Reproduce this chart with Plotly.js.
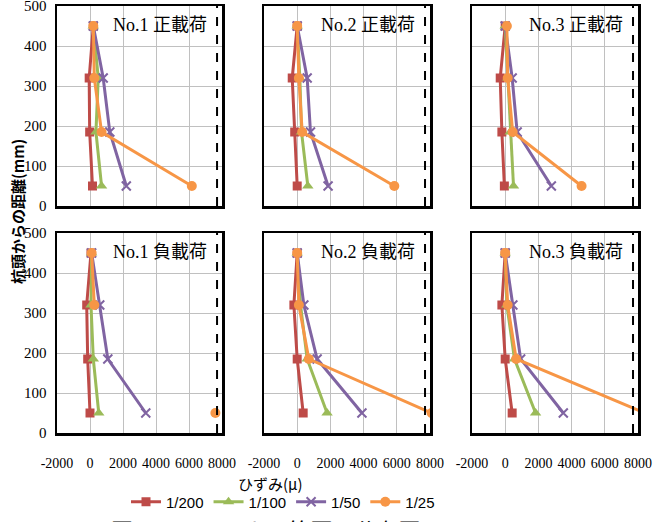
<!DOCTYPE html>
<html>
<head>
<meta charset="utf-8">
<script src="https://cdn.plot.ly/plotly-3.0.1.min.js"></script>
<style>html,body{margin:0;padding:0;background:#fff;}#chart{width:656px;height:522px;}</style>
</head>
<body>
<div id="chart"></div>
<script>
// ---- data ----
const depth = [450, 320, 185, 50];               // 杭頭からの距離 (mm)
const panelTitles = ['No.1 正載荷', 'No.2 正載荷', 'No.3 正載荷',
                     'No.1 負載荷', 'No.2 負載荷', 'No.3 負載荷'];
const seriesNames = ['1/200', '1/100', '1/50', '1/25'];
// strain (μ) per panel, in depth order
const strain200 = [
  [200, -50, -20, 150],
  [0, -300, -150, 0],
  [0, -300, -200, -50],
  [60, -200, -140, 0],
  [0, -200, 0, 360],
  [0, -200, 0, 420]
];
const strain100 = [
  [200, 500, 360, 700],
  [0, 160, 260, 640],
  [0, 150, 300, 500],
  [100, 60, 200, 530],
  [0, 200, 600, 1800],
  [0, 100, 560, 1830]
];
const strain50 = [
  [200, 800, 1200, 2200],
  [0, 600, 800, 1860],
  [0, 420, 720, 2780],
  [100, 590, 1080, 3380],
  [0, 400, 1200, 3900],
  [0, 460, 930, 3500]
];
const strain25 = [
  [200, 260, 700, 6170],
  [0, 100, 300, 5850],
  [100, 150, 450, 4600],
  [100, 260, null, 7600],
  [0, 100, 700, 8100],
  [0, 150, 660, 8400]
];
const yieldStrain = 7700;                          // dashed reference line
const xTicks = [-2000, 0, 2000, 4000, 6000, 8000];
const yTicks = [0, 100, 200, 300, 400, 500];

// ---- styling ----
const SERIF = 'Liberation Serif, DejaVu Serif, Times New Roman, serif';
const SERIF_CJK = 'Liberation Serif, DejaVu Serif, Noto Sans CJK JP, serif';
const CJK = 'Noto Sans CJK JP, sans-serif';
const colors = ['#BE4B48', '#9BBB59', '#8064A2', '#F79646'];
const symbols = ['square', 'triangle-up', 'x-thin-open', 'circle'];
const msizes = [9, 10, 9, 10];
const allSeries = [strain200, strain100, strain50, strain25];

const W = 656, H = 522;
const colPx = [[57, 222], [264, 430], [472, 638]];
const rowPx = [[6, 206], [233, 433]];

const traces = [];
const layout = {
  width: W, height: H,
  margin: {l: 0, r: 0, t: 0, b: 0},
  paper_bgcolor: '#fff', plot_bgcolor: '#fff',
  font: {family: SERIF},
  showlegend: true,
  legend: {
    orientation: 'h', x: 283 / W, xanchor: 'center', y: 1 - 502 / H, yanchor: 'middle',
    font: {family: 'Liberation Sans, Arial, sans-serif', size: 15, color: '#000'},
    itemwidth: 30, tracegroupgap: 0
  },
  annotations: [], shapes: []
};

for (let p = 0; p < 6; p++) {
  const r = Math.floor(p / 3), c = p % 3;
  const ax = p === 0 ? '' : String(p + 1);
  const xa = 'xaxis' + ax, ya = 'yaxis' + ax;
  layout[xa] = {
    domain: [colPx[c][0] / W, colPx[c][1] / W],
    anchor: 'y' + ax,
    range: [-2000, 8000],
    tickvals: xTicks,
    ticktext: xTicks.map(String),
    showticklabels: r === 1,
    ticks: '',
    ticklabelstandoff: 16,
    ticklabeloverflow: 'allow',
    tickfont: {family: SERIF, size: 14, color: '#000'},
    showgrid: true, gridcolor: '#C0C0C0', gridwidth: 1,
    zeroline: false,
    showline: true, mirror: true, linecolor: '#000', linewidth: 2.5,
    automargin: false, fixedrange: true
  };
  layout[ya] = {
    domain: [1 - rowPx[r][1] / H, 1 - rowPx[r][0] / H],
    anchor: 'x' + ax,
    range: [0, 500],
    tickvals: yTicks,
    showticklabels: c === 0,
    ticks: '',
    ticklabelstandoff: 5,
    ticklabeloverflow: 'allow',
    tickfont: {family: SERIF, size: 15, color: '#000'},
    showgrid: true, gridcolor: '#C0C0C0', gridwidth: 1,
    zeroline: false,
    showline: true, mirror: true, linecolor: '#000', linewidth: 2.5,
    automargin: false, fixedrange: true
  };
  for (let s = 0; s < 4; s++) {
    traces.push({
      type: 'scatter', mode: 'lines+markers',
      x: allSeries[s][p], y: depth,
      xaxis: 'x' + ax, yaxis: 'y' + ax,
      name: seriesNames[s],
      legendgroup: seriesNames[s],
      showlegend: p === 0,
      line: {color: colors[s], width: 3},
      marker: {symbol: symbols[s], size: msizes[s], color: colors[s],
               line: {color: colors[s], width: s === 2 ? 2 : 0}},
      connectgaps: false
    });
  }
  layout.shapes.push({
    type: 'line', xref: 'x' + ax, yref: 'y' + ax + ' domain',
    x0: yieldStrain, x1: yieldStrain, y0: 0, y1: 1,
    line: {color: '#000', width: 2, dash: 'dash'}
  });
  layout.annotations.push({
    text: panelTitles[p], xref: 'x' + ax + ' domain', yref: 'y' + ax,
    x: 0.92, xanchor: 'right', y: 452, yanchor: 'middle', showarrow: false,
    font: {family: SERIF_CJK, size: 18, color: '#000'}
  });
}

layout.annotations.push({
  text: '杭頭からの距離(mm)', xref: 'paper', yref: 'paper',
  x: 17 / W, y: 1 - 212 / H, xanchor: 'center', yanchor: 'middle',
  textangle: -90, showarrow: false,
  font: {family: CJK, size: 15, color: '#000', weight: 'bold'}
});
layout.annotations.push({
  text: 'ひずみ(μ)', xref: 'paper', yref: 'paper',
  x: 270 / W, y: 1 - 483 / H, xanchor: 'center', yanchor: 'middle',
  showarrow: false,
  font: {family: CJK, size: 15, color: '#000'}
});
layout.annotations.push({
  text: '図－10　アンカー筋歪み分布図', xref: 'paper', yref: 'paper',
  x: 266 / W, y: 1 - 511 / H, xanchor: 'center', yanchor: 'top',
  showarrow: false,
  font: {family: CJK, size: 22, color: '#000'}
});

Plotly.newPlot('chart', traces, layout, {displayModeBar: false, staticPlot: true});
</script>
</body>
</html>
